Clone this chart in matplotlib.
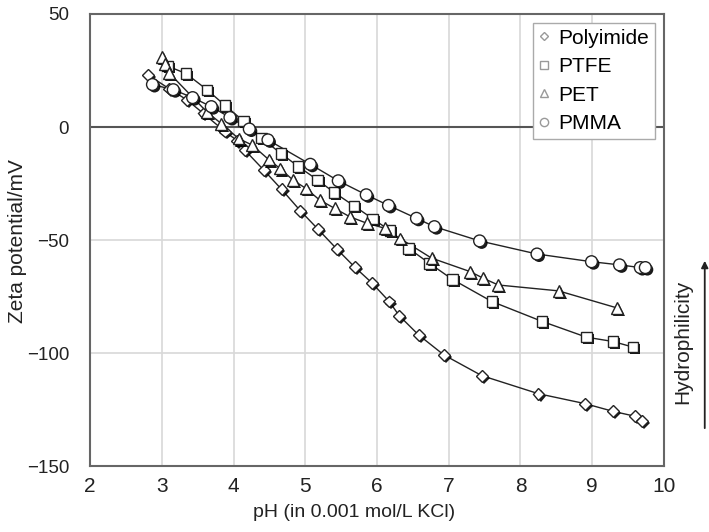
import matplotlib
matplotlib.use("Agg")
import matplotlib.pyplot as plt
import matplotlib.patheffects as pe
from matplotlib.lines import Line2D

plt.rcParams['font.family'] = ['Liberation Sans', 'DejaVu Sans']

# values
polyimide_ph = [2.81, 3.1, 3.35, 3.58, 3.88, 4.05, 4.16, 4.42, 4.67, 4.93, 5.18, 5.44, 5.69,
                5.93, 6.17, 6.31, 6.58, 6.93, 7.46, 8.25, 8.9, 9.29, 9.6, 9.69]
polyimide_zp = [23, 17, 12, 6, -2, -6, -10.3, -19, -27.6, -37, -45.3, -54, -62,
                -69, -77.2, -83.5, -92, -100.8, -110, -118, -122.4, -125.8, -128, -130]

ptfe_ph = [3.08, 3.34, 3.63, 3.88, 4.14, 4.39, 4.66, 4.9, 5.17, 5.4, 5.68, 5.94, 6.18,
           6.44, 6.73, 7.05, 7.6, 8.3, 8.92, 9.29, 9.57]
ptfe_zp = [27, 23.6, 16.5, 9.6, 2.6, -4.9, -11.7, -17.4, -23.4, -28.9, -34.9, -40.6, -45.8,
           -53.7, -60.3, -67.4, -77.2, -86, -93, -94.9, -97.4]

pet_ph = [3.0, 3.05, 3.1, 3.63, 3.83, 4.07, 4.26, 4.49, 4.65, 4.83, 5.01, 5.2, 5.41, 5.62,
          5.86, 6.11, 6.32, 6.76, 7.3, 7.48, 7.69, 8.53, 9.34]
pet_zp = [31, 28, 24, 6.6, 1.5, -5.1, -8, -14.4, -18.4, -23.5, -27.2, -32.3, -36, -39.7,
          -42.6, -44.8, -49.3, -58, -64, -66.9, -69.9, -72.5, -80]

pmma_ph = [2.87, 3.16, 3.43, 3.69, 3.95, 4.22, 4.48, 5.07, 5.46, 5.85, 6.16, 6.55, 6.8,
           7.43, 8.23, 8.99, 9.38, 9.67, 9.74]
pmma_zp = [18.8, 16.5, 13, 9, 4.2, -0.9, -5.7, -16.5, -23.8, -30, -34.7, -40.4, -44.1,
           -50.4, -56.2, -59.6, -61, -62.2, -62.2]

series = [("Polyimide", "D", 6, polyimide_ph, polyimide_zp),
          ("PTFE", "s", 7.5, ptfe_ph, ptfe_zp),
          ("PET", "^", 8.5, pet_ph, pet_zp),
          ("PMMA", "o", 8.5, pmma_ph, pmma_zp)]

fig = plt.figure(figsize=(7.09, 5.32), dpi=100)
ax = fig.add_axes([0.127, 0.124, 0.8095, 0.8497])

shadow = [pe.SimplePatchShadow(offset=(1.5, -1.5), shadow_rgbFace="black", alpha=0.9),
          pe.Normal()]

for name, mk, ms, xs, ys in series:
    ax.plot(xs, ys, color="#222222", lw=1.0, zorder=3)
    ax.plot(xs, ys, ls="none", marker=mk, ms=ms, mfc="white", mec="#222222", mew=1.0,
            zorder=4, path_effects=shadow)

ax.axhline(0, color="#555555", lw=1.5, zorder=2)

ax.set_xlim(2, 10)
ax.set_ylim(-150, 50)
ax.set_xticks(range(2, 11))
ax.set_yticks([-150, -100, -50, 0, 50])
ax.set_yticklabels(["\u2212150", "\u2212100", "\u221250", "0", "50"])
ax.grid(True, color="#d8d8d8", lw=1.2, zorder=0)
ax.tick_params(length=0, colors="#222222")
ax.tick_params(axis="y", pad=15, labelsize=13.5)
ax.tick_params(axis="x", pad=8, labelsize=15)
for sp in ax.spines.values():
    sp.set_color("#666666")
    sp.set_linewidth(1.5)

fig.text(0.5, 0.037, "pH (in 0.001 mol/L KCl)", fontsize=14, ha="center", va="center",
         color="#222222")
fig.text(0.024, 0.547, "Zeta potential/mV", fontsize=15, rotation=90, ha="center",
         va="center", color="#222222")

handles = [Line2D([], [], ls="none", marker=mk, ms=ms * 0.7, mfc="white", mec="#999999",
                  mew=1.0, label=name) for name, mk, ms, xs, ys in series]
leg = ax.legend(handles=handles, loc="upper right", fontsize=15, frameon=True,
                fancybox=False, edgecolor="#aaaaaa", framealpha=1, handlelength=0.6,
                handletextpad=0.4, borderaxespad=0.45, labelspacing=0.46,
                borderpad=0.25)
leg.get_frame().set_linewidth(1.0)
leg.set_zorder(5)

fig.text(0.963, 0.357, "Hydrophilicity", rotation=90, fontsize=15, ha="center",
         va="center", color="#222222")
ax.annotate("", xy=(0.994, 0.515), xytext=(0.994, 0.19), xycoords="figure fraction",
            arrowprops=dict(arrowstyle="-|>", color="#222222", lw=1.3,
                            mutation_scale=10))

fig.savefig("out.png", dpi=100)
